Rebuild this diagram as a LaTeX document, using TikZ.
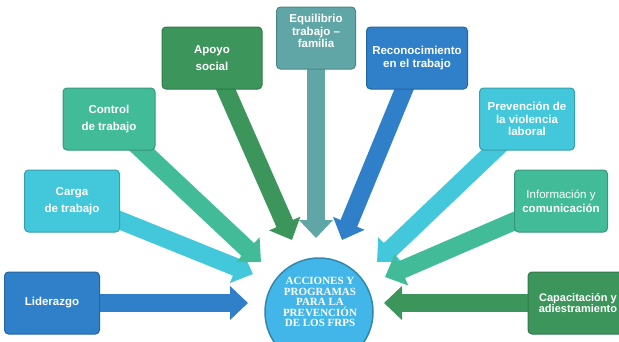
\documentclass[tikz,border=0pt]{standalone}
\usepackage{fontspec}
\setmainfont{Liberation Sans}
\newfontfamily\circfont{Liberation Serif}
\usetikzlibrary{arrows.meta, backgrounds}
\definecolor{cblue}{RGB}{47,128,200}
\definecolor{ccyan}{RGB}{66,200,218}
\definecolor{cteal}{RGB}{66,188,152}
\definecolor{cgreen}{RGB}{60,150,92}
\definecolor{cgray}{RGB}{96,166,166}
\definecolor{cmid}{RGB}{66,182,232}
\tikzset{
    boxnode/.style={rectangle, rounded corners=4pt, fill=#1, draw=#1!80!black, line width=1pt,
        minimum width=95pt, minimum height=62pt, text=white, align=center,
        font=\bfseries\fontsize{11.5}{12.5}\selectfont}, % the boxes round the circle
    wide/.style={font=\bfseries\fontsize{11.5}{17}\selectfont}, % two lines further apart
    bigarrow/.style={#1, line width=18pt, -{Triangle[length=18pt,width=33pt]}}, % the wide arrows
    }

\begin{document}
\begin{tikzpicture}[x=1pt, y=-1pt]
\useasboundingbox (0,0) rectangle (619,341);
\clip (0,0) rectangle (619,341);

\node[circle, minimum size=108pt, fill=cmid, draw=cmid!75!black, line width=1.5pt] (c) at (319,312) {};
\node[text=white, align=center, font=\circfont\bfseries\fontsize{11}{10.5}\selectfont] (ctext) at (320,302)
    {ACCIONES Y\\PROGRAMAS\\PARA LA\\PREVENCIÓN\\DE LOS FRPS};

\node[boxnode=cblue] (1) at (52,303) {Liderazgo};
\node[boxnode=ccyan, wide] (2) at (72,201) {Carga\\de trabajo};
\node[boxnode=cteal, wide, minimum width=92pt] (3) at (109,119) {Control\\de trabajo};
\node[boxnode=cgreen, wide, minimum width=100pt] (4) at (212,58) {Apoyo\\social};
\node[boxnode=cgray, minimum width=79pt, text depth=14pt] (5) at (316,38) {Equilibrio\\trabajo –\\familia};
\node[boxnode=cblue, minimum width=101pt] (6) at (417,58) {Reconocimiento\\en el trabajo};
\node[boxnode=ccyan] (7) at (527,119) {Prevención de\\la violencia\\laboral};
\node[boxnode=cteal, minimum width=93pt, font=\bfseries\fontsize{11.5}{14}\selectfont] (8) at (561,201) {{\mdseries Información y}\\comunicación};
\node[boxnode=cgreen, minimum width=100pt, font=\bfseries\fontsize{11}{11.5}\selectfont] (9) at (578,303) {Capacitación y\\adiestramiento};

% arrow tips next to the circle
\coordinate (t1) at (248,303);
\coordinate (t2) at (253,274);
\coordinate (t3) at (261,262);
\coordinate (t4) at (292,240);
\coordinate (t5) at (316,238);
\coordinate (t6) at (342,240);
\coordinate (t7) at (377,262);
\coordinate (t8) at (385,277);
\coordinate (t9) at (384,303);

\begin{scope}[on background layer]
\draw (1.center) edge[bigarrow=cblue] (t1)
(2.center) edge[bigarrow=ccyan] (t2)
(3.center) edge[bigarrow=cteal] (t3)
(4.center) edge[bigarrow=cgreen] (t4)
(5.center) edge[bigarrow=cgray] (t5)
(6.center) edge[bigarrow=cblue] (t6)
(7.center) edge[bigarrow=ccyan] (t7)
(8.center) edge[bigarrow=cteal] (t8)
(9.center) edge[bigarrow=cgreen] (t9);
\end{scope}
\end{tikzpicture}
\end{document}
